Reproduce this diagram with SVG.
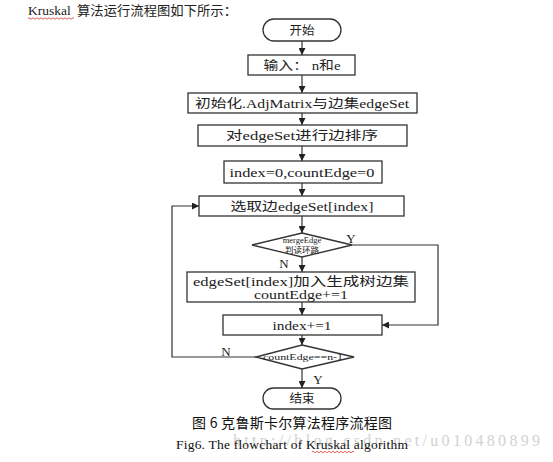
<svg xmlns="http://www.w3.org/2000/svg" width="553" height="462" viewBox="0 0 553 462">
<defs>
<marker id="arr" viewBox="0 0 8 8" refX="8" refY="4" markerWidth="7" markerHeight="7" orient="auto" markerUnits="userSpaceOnUse">
<path d="M0,0 L8,4 L0,8 z" fill="#222"/>
</marker>
<style>
.box{fill:#fff;stroke:#333;stroke-width:1.3}
.ln{fill:none;stroke:#333;stroke-width:1.2}
.t{font-family:"Liberation Serif","Noto Sans CJK SC",serif;font-size:12.5px;fill:#222;text-anchor:middle}
.s{font-family:"Liberation Serif","Noto Sans CJK SC",serif;font-size:8.5px;fill:#222;text-anchor:middle}
.lab{font-family:"Liberation Serif",serif;font-size:13px;fill:#222;text-anchor:middle}
</style>
</defs>
<rect width="553" height="462" fill="#fff"/>

<g id="header">
<text x="28" y="15" font-family="Liberation Serif, serif" font-size="13.5" fill="#222">Kruskal</text>
<text x="77" y="15" font-family="Noto Sans CJK SC, sans-serif" font-size="13" fill="#222" textLength="160" lengthAdjust="spacingAndGlyphs">算法运行流程图如下所示：</text>
<path d="M28,18.5 q1,-1.5 2,0 t2,0 t2,0 t2,0 t2,0 t2,0 t2,0 t2,0 t2,0 t2,0 t2,0 t2,0 t2,0 t2,0 t2,0 t2,0 t2,0 t2,0 t2,0 t2,0 t2,0 t2,0 t2,0" fill="none" stroke="#d33" stroke-width="0.8"/>
</g>

<g id="connectors">
<line class="ln" x1="302" y1="41" x2="302" y2="55" marker-end="url(#arr)"/>
<line class="ln" x1="302" y1="75" x2="302" y2="93" marker-end="url(#arr)"/>
<line class="ln" x1="302" y1="113" x2="302" y2="125" marker-end="url(#arr)"/>
<line class="ln" x1="302" y1="146" x2="302" y2="161" marker-end="url(#arr)"/>
<line class="ln" x1="302" y1="183" x2="302" y2="196" marker-end="url(#arr)"/>
<line class="ln" x1="302" y1="216" x2="302" y2="233" marker-end="url(#arr)"/>
<line class="ln" x1="302" y1="257" x2="302" y2="272" marker-end="url(#arr)"/>
<line class="ln" x1="302" y1="302" x2="302" y2="315" marker-end="url(#arr)"/>
<line class="ln" x1="302" y1="335" x2="302" y2="345" marker-end="url(#arr)"/>
<line class="ln" x1="302" y1="369" x2="302" y2="388" marker-end="url(#arr)"/>
<polyline class="ln" points="352,245 438,245 438,325 382,325" marker-end="url(#arr)"/>
<polyline class="ln" points="256,357 172,357 172,206 199,206" marker-end="url(#arr)"/>
<text class="lab" x="351" y="243">Y</text>
<text class="lab" x="284" y="268">N</text>
<text class="lab" x="226" y="356">N</text>
<text class="lab" x="318" y="384">Y</text>
</g>

<g id="start">
<rect class="box" x="263" y="19" width="78" height="22" rx="11"/>
<text class="t" x="302" y="34.5">开始</text>
</g>
<g id="input">
<rect class="box" x="248" y="55" width="107" height="20"/>
<text class="t" x="302" y="69.5" textLength="77" lengthAdjust="spacingAndGlyphs">输入： n和e</text>
</g>
<g id="init">
<rect class="box" x="188" y="93" width="229" height="20"/>
<text class="t" x="302" y="107.5" textLength="214" lengthAdjust="spacingAndGlyphs">初始化.AdjMatrix与边集edgeSet</text>
</g>
<g id="sort">
<rect class="box" x="198" y="125" width="209" height="21"/>
<text class="t" x="302" y="140" textLength="152" lengthAdjust="spacingAndGlyphs">对edgeSet进行边排序</text>
</g>
<g id="initIndex">
<rect class="box" x="224" y="161" width="158" height="22"/>
<text class="t" x="302" y="176.5" textLength="145" lengthAdjust="spacingAndGlyphs">index=0,countEdge=0</text>
</g>
<g id="select">
<rect class="box" x="199" y="196" width="205" height="20"/>
<text class="t" x="302" y="210.5" textLength="143" lengthAdjust="spacingAndGlyphs">选取边edgeSet[index]</text>
</g>
<g id="merge">
<polygon class="box" points="302,233 352,245 302,257 252,245"/>
<text class="s" x="302" y="243">mergeEdge</text>
<text class="s" x="302" y="253">判读环路</text>
</g>
<g id="addEdge">
<rect class="box" x="187" y="272" width="228" height="30"/>
<text class="t" x="301" y="285.5" textLength="216" lengthAdjust="spacingAndGlyphs">edgeSet[index]加入生成树边集</text>
<text class="t" x="301" y="298.5" textLength="94" lengthAdjust="spacingAndGlyphs">countEdge+=1</text>
</g>
<g id="increment">
<rect class="box" x="223" y="315" width="159" height="20"/>
<text class="t" x="302" y="329.5" textLength="59" lengthAdjust="spacingAndGlyphs">index+=1</text>
</g>
<g id="check">
<polygon class="box" points="302,345 354,357 302,369 256,357"/>
<text class="s" x="303" y="360" textLength="80" lengthAdjust="spacingAndGlyphs">countEdge==n-1</text>
</g>
<g id="end">
<rect class="box" x="263" y="388" width="78" height="21" rx="10.5"/>
<text class="t" x="302" y="403">结束</text>
</g>

<g id="caption">
<text x="233" y="446" font-family="Liberation Serif, serif" font-size="16" fill="#d2d2d2" textLength="307" lengthAdjust="spacing">http://blog.csdn.net/u010480899</text>
<text x="192" y="428" font-family="Noto Sans CJK SC, sans-serif" font-size="14" fill="#111" textLength="200" lengthAdjust="spacing">图 6 克鲁斯卡尔算法程序流程图</text>
<text x="176" y="449" font-family="Liberation Serif, serif" font-size="13.5" fill="#111" textLength="232" lengthAdjust="spacing">Fig6. The flowchart of Kruskal algorithm</text>
<path d="M312,452 q1,-1.5 2,0 t2,0 t2,0 t2,0 t2,0 t2,0 t2,0 t2,0 t2,0 t2,0 t2,0 t2,0 t2,0 t2,0 t2,0 t2,0 t2,0 t2,0 t2,0 t2,0 t2,0" fill="none" stroke="#d33" stroke-width="0.8"/>
</g>
</svg>
